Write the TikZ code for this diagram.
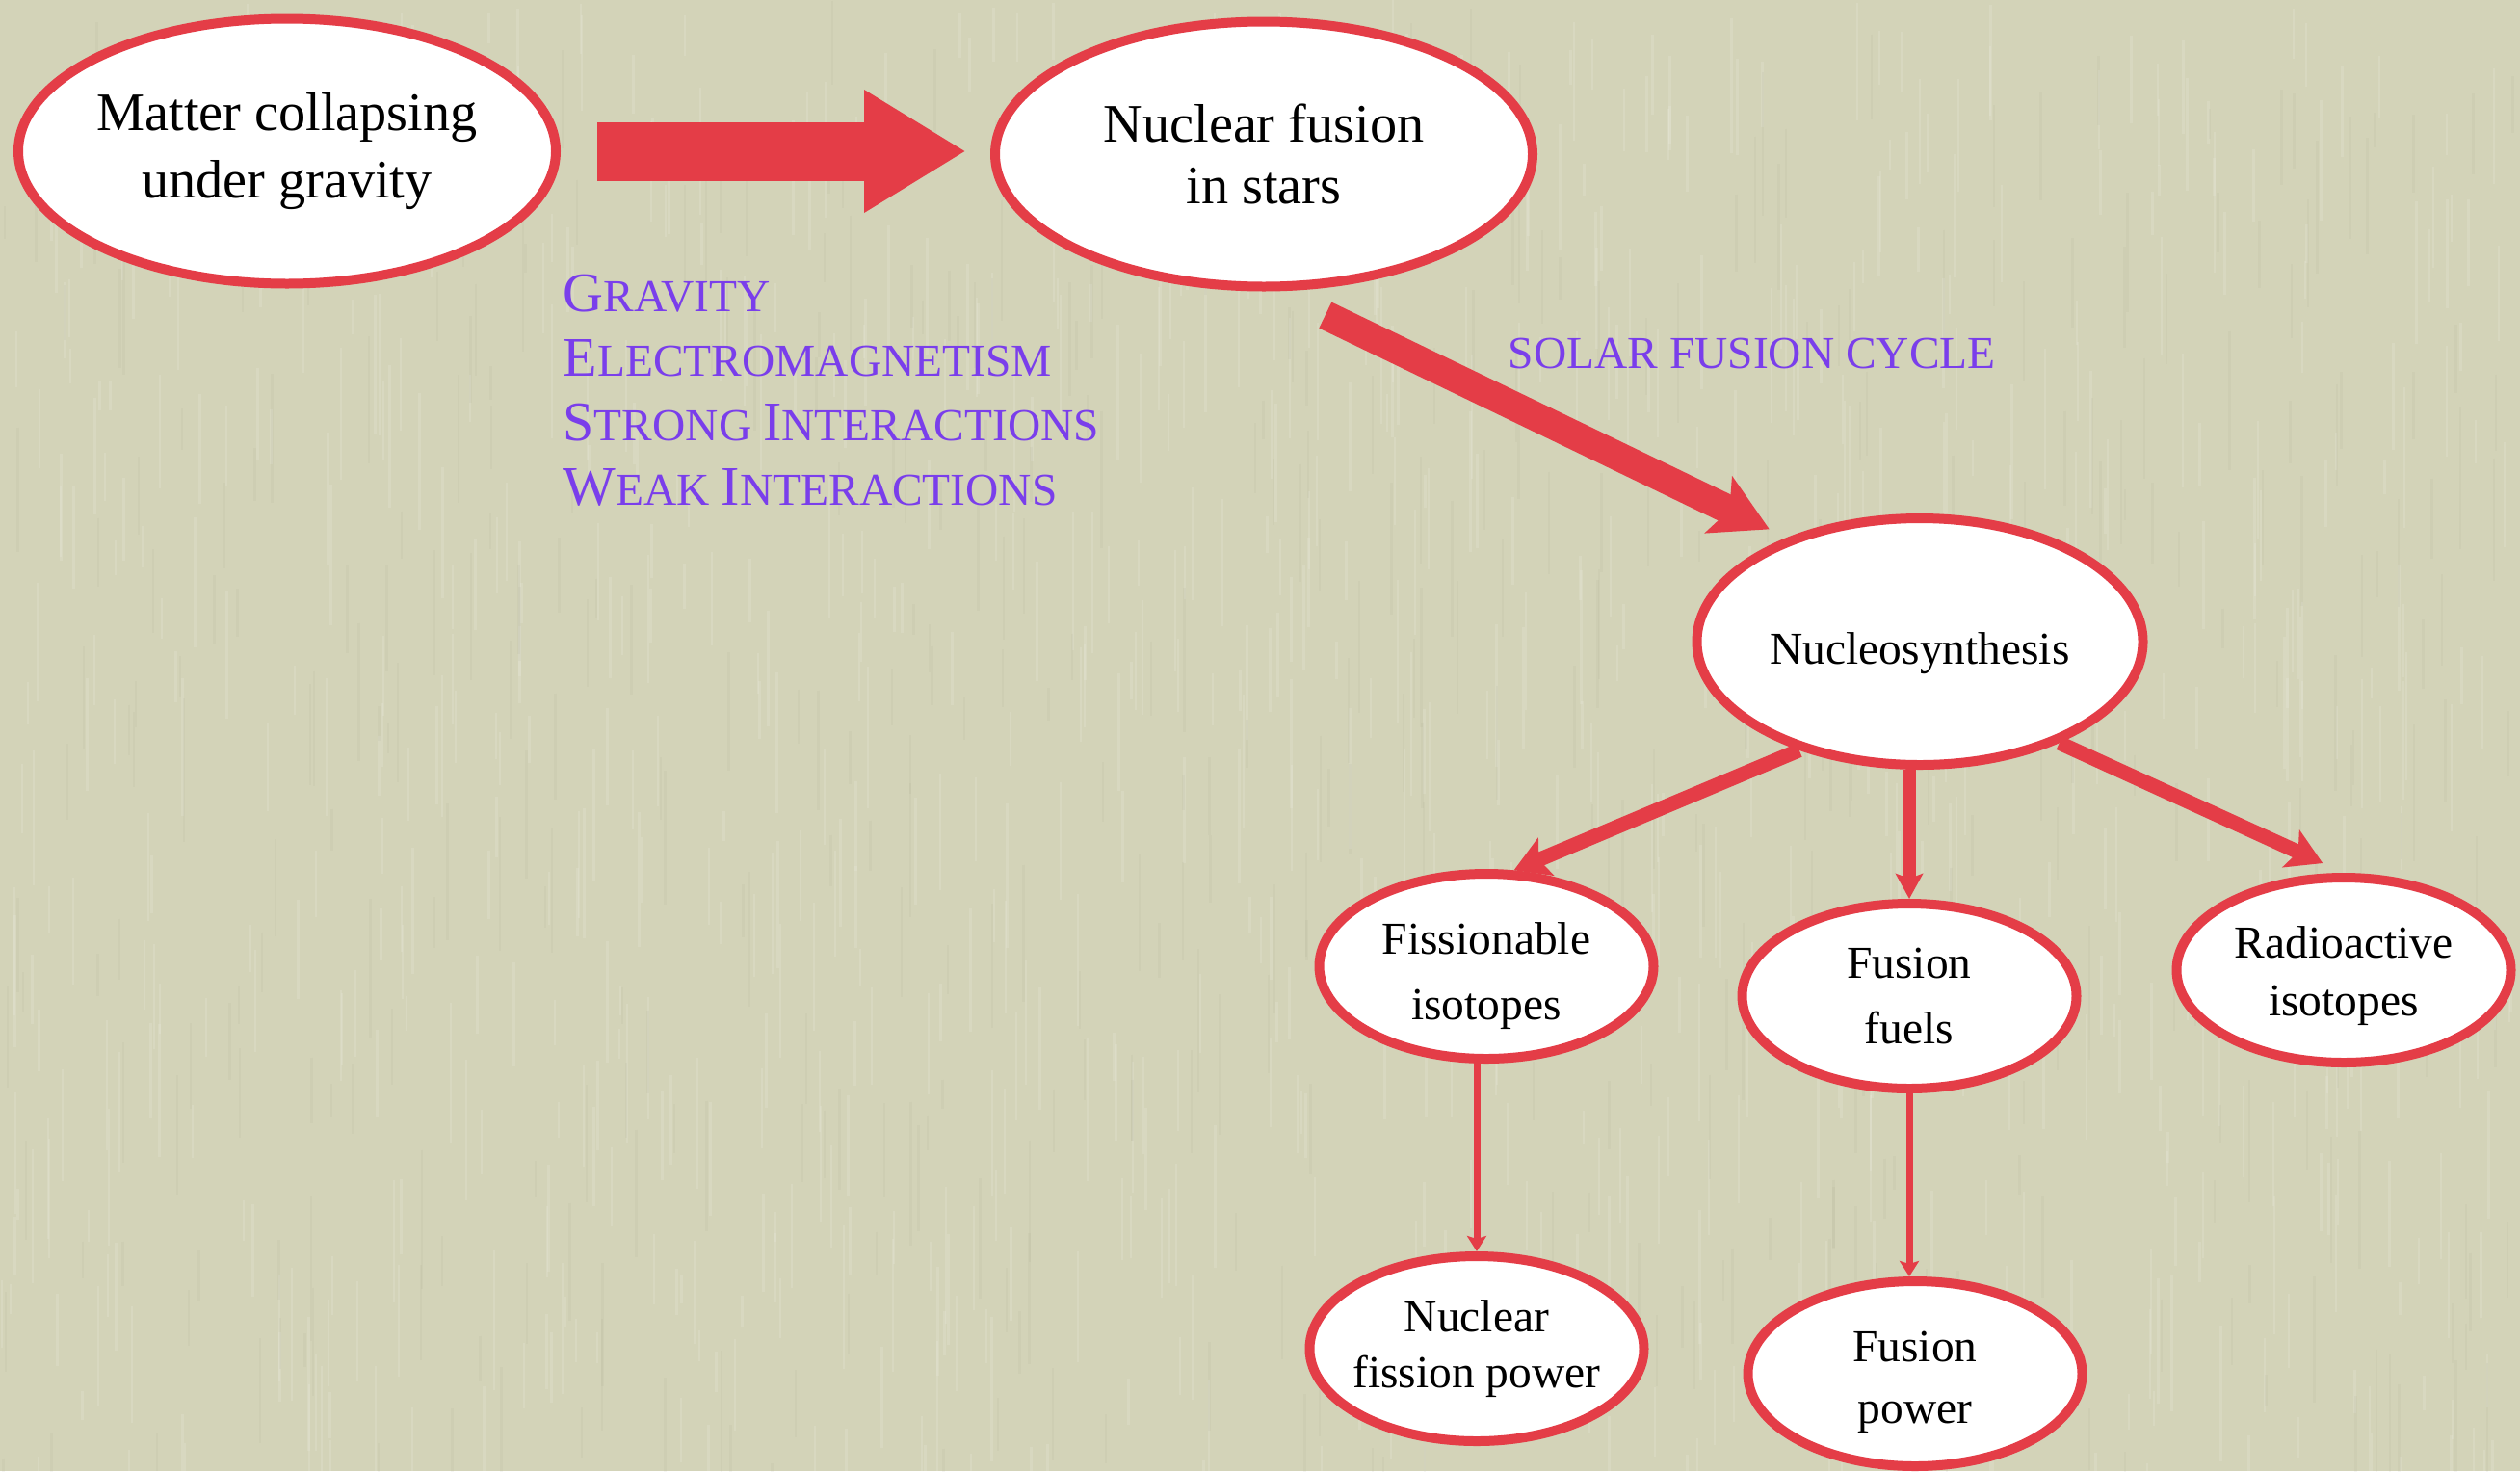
\documentclass[tikz,border=0pt]{standalone}
\usepackage{fontspec}
\setmainfont{Liberation Serif}
\usetikzlibrary{shapes.geometric,arrows.meta}
\definecolor{fusionred}{RGB}{228,61,71}
\definecolor{forcepurple}{RGB}{122,62,235}
\definecolor{paper}{RGB}{211,211,184}
% first letter full size, the rest as small capitals
\newcommand{\capfirst}[2]{{\fontsize{16.5}{19}\selectfont #1}#2}
% invisible strut that pushes a label a little lower in its bubble
\newcommand{\textdrop}[1]{\rule{0pt}{#1}}

\begin{document}
\begin{tikzpicture}[x=1cm,y=1cm,
  bubble/.style={ellipse,draw=fusionred,line width=1mm,fill=white,
    inner xsep=-1cm,inner ysep=0pt,align=center},
  bigbubble/.style={bubble,minimum width=5.58cm,minimum height=2.75cm,
    font=\fontsize{16}{20}\selectfont},
  nucbubble/.style={bubble,minimum width=4.63cm,minimum height=2.56cm,
    font=\fontsize{13.5}{18}\selectfont},
  smallbubble/.style={bubble,minimum width=3.47cm,minimum height=1.92cm,
    font=\fontsize{13.5}{#1}\selectfont},
  smallbubble/.default=19,
  flow/.style={color=fusionred,line width=#1},
  forces/.style={text=forcepurple,inner sep=0pt,align=left,
    font=\fontsize{13.5}{19.1}\selectfont}]
  % Paper background with faint vertical grain.
  \useasboundingbox (0,0) rectangle (26.16,-15.27);
  \fill[paper] (0,0) rectangle (26.16,-15.27);
  \pgfmathsetseed{11}
  \foreach \k in {1,...,900}{
    \pgfmathsetmacro{\gx}{26.1*rnd}
    \pgfmathsetmacro{\gy}{-15.2*rnd}
    \pgfmathsetmacro{\gl}{0.3+1.2*rnd}
    \draw[white,opacity=0.12,line width=0.7pt] (\gx,\gy) -- ++(0,-\gl);
  }
  \foreach \k in {1,...,500}{
    \pgfmathsetmacro{\gx}{26.1*rnd}
    \pgfmathsetmacro{\gy}{-15.2*rnd}
    \pgfmathsetmacro{\gl}{0.3+1.2*rnd}
    \draw[paper!60!black,opacity=0.06,line width=0.7pt] (\gx,\gy) -- ++(0,-\gl);
  }
  % Stages of the chain.
  \node[bigbubble] (matter) at (2.98,-1.57) {Matter collapsing\\under gravity};
  \node[bigbubble,font=\fontsize{16}{18}\selectfont] (stars) at (13.12,-1.60)
    {Nuclear fusion\\in stars};
  \node[nucbubble] (nucleo) at (19.93,-6.66) {\textdrop{16pt}Nucleosynthesis};
  \node[smallbubble=19.5] (fission) at (15.43,-10.03)
    {\textdrop{15pt}Fissionable\\isotopes};
  \node[smallbubble=19.5] (fuels) at (19.82,-10.34) {Fusion\\fuels};
  \node[smallbubble=17] (radio) at (24.33,-10.07)
    {\textdrop{13pt}Radioactive\\isotopes};
  \node[smallbubble=16.5] (fissionpow) at (15.33,-14.00) {Nuclear\\fission power};
  \node[smallbubble=18] (fusionpow) at (19.88,-14.26)
    {\textdrop{14pt}Fusion\\power};
  % The four interactions and the cycle label.
  \node[forces,anchor=north west] (interactions) at (5.84,-2.84)
    {\capfirst{G}{RAVITY}\\\capfirst{E}{LECTROMAGNETISM}\\
     \capfirst{S}{TRONG} \capfirst{I}{NTERACTIONS}\\
     \capfirst{W}{EAK} \capfirst{I}{NTERACTIONS}};
  \node[forces,anchor=base west] (cycle) at (15.65,-3.82) {SOLAR FUSION CYCLE};
  % Arrows, thickest first.
  \draw[flow=0.61cm,-{Triangle[length=1.06cm,width=1.2cm]},
    shorten <=0.38cm,shorten >=0.25cm] (matter.east) -- (matter.east -| stars.west);
  \draw[flow=0.3cm,-{Stealth[length=0.58cm,width=0.64cm,inset=0.12cm]},
    shorten <=0.57cm,shorten >=0.2cm] (stars.-85) -- (nucleo.142);
  \draw[flow=0.15cm,-{Stealth[length=0.36cm,width=0.42cm,inset=0.08cm]}]
    (nucleo.-138) -- (fission.74);
  \draw[flow=0.13cm,-{Stealth[length=0.26cm,width=0.28cm,inset=0.05cm]}]
    (fuels.north |- nucleo.south) -- (fuels.north);
  \draw[flow=0.15cm,-{Stealth[length=0.36cm,width=0.42cm,inset=0.08cm]},
    shorten >=0.24cm] (nucleo.-36) -- (radio.north);
  \draw[flow=0.07cm,-{Stealth[length=0.16cm,width=0.2cm,inset=0.03cm]}]
    (fissionpow.north |- fission.south) -- (fissionpow.north);
  \draw[flow=0.07cm,-{Stealth[length=0.16cm,width=0.2cm,inset=0.03cm]}]
    (fuels.south) -- (fuels.south |- fusionpow.north);
\end{tikzpicture}
\end{document}
